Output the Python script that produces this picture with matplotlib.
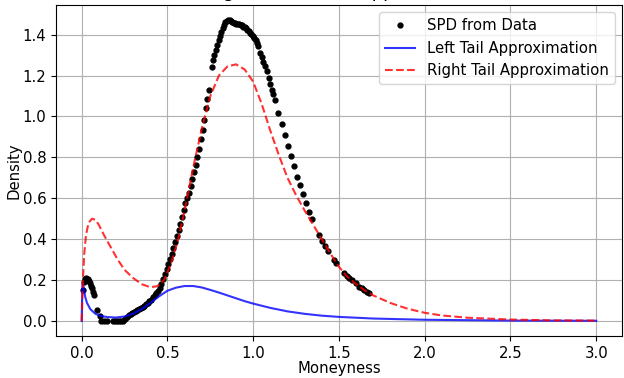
import matplotlib
matplotlib.use('Agg')
import matplotlib.pyplot as plt

# SPD points
spd_x = [0.008, 0.014, 0.020, 0.027, 0.034, 0.040, 0.046, 0.052, 0.058, 0.064, 0.070,
         0.090, 0.105, 0.115, 0.130, 0.145, 0.184, 0.196, 0.207, 0.218, 0.228, 0.240,
         0.255, 0.265, 0.275, 0.285, 0.295, 0.305, 0.315, 0.325, 0.335, 0.345, 0.355,
         0.365, 0.375, 0.385, 0.395, 0.405, 0.415, 0.425, 0.435, 0.445, 0.455, 0.465,
         0.475, 0.485, 0.495, 0.505, 0.515, 0.525, 0.535, 0.545, 0.555, 0.565, 0.575,
         0.585, 0.595, 0.605, 0.615, 0.625, 0.635, 0.645, 0.655, 0.665, 0.675, 0.685,
         0.695, 0.705, 0.715, 0.725, 0.733, 0.740, 0.758, 0.766, 0.774, 0.782, 0.790,
         0.798, 0.806, 0.814, 0.822, 0.830, 0.838, 0.846, 0.854, 0.862, 0.870, 0.878,
         0.886, 0.894, 0.902, 0.910, 0.918, 0.926, 0.934, 0.942, 0.950, 0.958, 0.966,
         0.974, 0.982, 0.990, 0.998, 1.006, 1.014, 1.022, 1.030, 1.040, 1.050, 1.060,
         1.070, 1.080, 1.090, 1.100, 1.108, 1.116, 1.126, 1.145, 1.165, 1.184, 1.203,
         1.220, 1.236, 1.255, 1.271, 1.290, 1.308, 1.325, 1.344, 1.383, 1.400, 1.416,
         1.435, 1.474, 1.485, 1.532, 1.545, 1.561, 1.575, 1.600, 1.619, 1.635, 1.648,
         1.662, 1.677]
spd_y = [0.150, 0.190, 0.205, 0.210, 0.205, 0.195, 0.185, 0.170, 0.160, 0.140, 0.125,
         0.052, 0.022, 0.000, 0.000, 0.000, 0.000, 0.000, 0.000, 0.000, 0.000, 0.000,
         0.010, 0.020, 0.030, 0.036, 0.041, 0.046, 0.050, 0.054, 0.059, 0.064, 0.069,
         0.075, 0.082, 0.089, 0.096, 0.105, 0.115, 0.125, 0.135, 0.147, 0.163, 0.183,
         0.207, 0.232, 0.255, 0.278, 0.302, 0.328, 0.355, 0.385, 0.415, 0.443, 0.472,
         0.510, 0.545, 0.575, 0.600, 0.625, 0.660, 0.695, 0.728, 0.763, 0.800, 0.843,
         0.888, 0.935, 0.985, 1.040, 1.085, 1.130, 1.240, 1.275, 1.300, 1.325, 1.350,
         1.375, 1.395, 1.415, 1.432, 1.447, 1.460, 1.468, 1.472, 1.472, 1.466, 1.461,
         1.458, 1.456, 1.454, 1.452, 1.450, 1.448, 1.445, 1.440, 1.436, 1.431, 1.424,
         1.417, 1.410, 1.402, 1.394, 1.383, 1.372, 1.360, 1.345, 1.312, 1.290, 1.268,
         1.245, 1.220, 1.190, 1.157, 1.130, 1.108, 1.079, 1.019, 0.965, 0.910, 0.857,
         0.805, 0.757, 0.706, 0.663, 0.620, 0.575, 0.533, 0.498, 0.420, 0.390, 0.366,
         0.343, 0.298, 0.285, 0.233, 0.220, 0.209, 0.198, 0.185, 0.168, 0.160, 0.152,
         0.144, 0.136]

# left tail approximation curve
left_x = [0.0, 0.002, 0.005, 0.010, 0.020, 0.030, 0.050, 0.080, 0.110, 0.150, 0.200,
          0.250, 0.300, 0.350, 0.400, 0.450, 0.500, 0.550, 0.600, 0.650, 0.700, 0.750,
          0.800, 0.850, 0.900, 0.950, 1.000, 1.100, 1.200, 1.300, 1.400, 1.500, 1.700,
          2.000, 2.500, 3.000]
left_y = [0.0, 0.100, 0.180, 0.170, 0.120, 0.090, 0.058, 0.035, 0.025, 0.019, 0.017,
          0.022, 0.036, 0.058, 0.088, 0.120, 0.148, 0.163, 0.171, 0.171, 0.164, 0.152,
          0.139, 0.125, 0.111, 0.097, 0.085, 0.064, 0.047, 0.035, 0.026, 0.020, 0.012,
          0.006, 0.002, 0.001]

# right tail approximation curve
right_x = [0.0, 0.004, 0.008, 0.015, 0.025, 0.040, 0.060, 0.080, 0.100, 0.130, 0.170,
           0.210, 0.250, 0.300, 0.350, 0.400, 0.440, 0.480, 0.520, 0.560, 0.600, 0.650,
           0.700, 0.750, 0.800, 0.850, 0.900, 0.950, 1.000, 1.050, 1.100, 1.150, 1.200,
           1.250, 1.300, 1.350, 1.400, 1.450, 1.500, 1.550, 1.600, 1.650, 1.700, 1.800,
           1.900, 2.000, 2.100, 2.250, 2.500, 2.750, 3.000]
right_y = [0.0, 0.120, 0.220, 0.330, 0.420, 0.480, 0.500, 0.495, 0.470, 0.420, 0.360,
           0.300, 0.250, 0.210, 0.180, 0.165, 0.170, 0.200, 0.280, 0.390, 0.540, 0.750,
           0.940, 1.100, 1.200, 1.245, 1.255, 1.230, 1.170, 1.060, 0.930, 0.810, 0.700,
           0.615, 0.540, 0.470, 0.400, 0.330, 0.265, 0.215, 0.180, 0.150, 0.125, 0.088,
           0.060, 0.040, 0.027, 0.016, 0.007, 0.003, 0.002]

plt.rcParams['font.size'] = 10.7

fig = plt.figure(figsize=(6.24, 3.78), dpi=100)
ax = fig.add_axes([0.0897, 0.111, 0.907, 0.876])

ax.plot(spd_x, spd_y, 'k.', markersize=7, label='SPD from Data')
ax.plot(left_x, left_y, 'b-', alpha=0.8, label='Left Tail Approximation')
ax.plot(right_x, right_y, 'r--', alpha=0.8, label='Right Tail Approximation')

ax.set_xlabel('Moneyness', labelpad=0.5)
ax.set_ylabel('Density', labelpad=0.5)
ax.set_title('Fitting SPD with Tail Approximations')  # only the bottom shows, as in the reference
ax.legend(loc='upper right')
ax.grid(True)

fig.savefig('out.png', dpi=100)
